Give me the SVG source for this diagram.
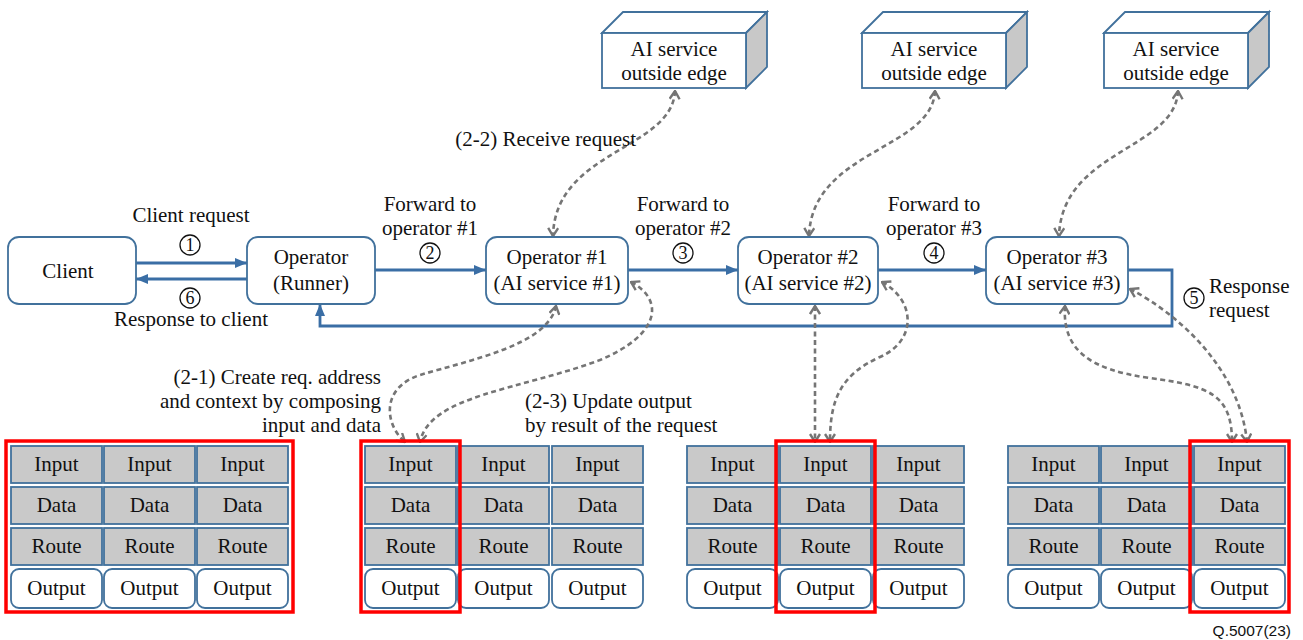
<svg xmlns="http://www.w3.org/2000/svg" width="1303" height="640" viewBox="0 0 1303 640" font-family="'Liberation Serif', 'Times New Roman', 'DejaVu Serif', serif">
<style>
text{font-family:'Liberation Serif','Times New Roman','DejaVu Serif',serif;font-size:21px;fill:#111}
.c{text-anchor:middle}
.r{text-anchor:end}
.node{fill:#fff;stroke:#41719c;stroke-width:1.8}
.cell{fill:#c9c9c9;stroke:#41719c;stroke-width:1.8}
.out{fill:#fff;stroke:#41719c;stroke-width:1.8}
.red{fill:none;stroke:#ff0000;stroke-width:3.5}
.side{fill:#c8c8c8;stroke:#41719c;stroke-width:1.8}
.blue{fill:none;stroke:#3a6ea5;stroke-width:2.8}
.dash{fill:none;stroke:#757575;stroke-width:2.6;stroke-dasharray:5 3.5}
.num{fill:none;stroke:#111;stroke-width:1.3}
.dg{font-size:18px}
.foot{font-family:'Liberation Sans',Arial,sans-serif;font-size:15.5px;text-anchor:end}
</style>
<defs>
<marker id="ab" viewBox="0 0 12 10" refX="12" refY="5" markerWidth="12" markerHeight="10" markerUnits="userSpaceOnUse" orient="auto-start-reverse">
<path d="M0,0 L12,5 L0,10 Z" fill="#3a6ea5"/>
</marker>
<marker id="ag" viewBox="0 0 10 12" refX="9" refY="6" markerWidth="10" markerHeight="12" markerUnits="userSpaceOnUse" orient="auto-start-reverse">
<path d="M1,1 L9,6 L1,11" fill="none" stroke="#757575" stroke-width="2.4"/>
</marker>
<g id="col">
<rect class="cell" x="0" y="0" width="91" height="37"/>
<rect class="cell" x="0" y="41" width="91" height="37"/>
<rect class="cell" x="0" y="82" width="91" height="37"/>
<rect class="out" x="0" y="123" width="91" height="39" rx="8"/>
<text class="c" x="45.5" y="25">Input</text>
<text class="c" x="45.5" y="66">Data</text>
<text class="c" x="45.5" y="107">Route</text>
<text class="c" x="45.5" y="149">Output</text>
</g>
</defs>
<rect width="1303" height="640" fill="#fff"/>

<g id="connectors">
<path class="blue" d="M136,263 L247,263" marker-end="url(#ab)"/>
<path class="blue" d="M247,279 L136,279" marker-end="url(#ab)"/>
<path class="blue" d="M375,270 L486,270" marker-end="url(#ab)"/>
<path class="blue" d="M628,270 L738,270" marker-end="url(#ab)"/>
<path class="blue" d="M878,270 L986,270" marker-end="url(#ab)"/>
<path class="blue" d="M1128,270 L1172,270 L1172,326 L320,326 L320,304" marker-end="url(#ab)"/>
<path class="dash" d="M675,91 C672,150 555,150 553,236" marker-start="url(#ag)" marker-end="url(#ag)"/>
<path class="dash" d="M935,91 C932,150 812,150 809,236" marker-start="url(#ag)" marker-end="url(#ag)"/>
<path class="dash" d="M1178,91 C1175,150 1062,150 1059,236" marker-start="url(#ag)" marker-end="url(#ag)"/>
<path class="dash" d="M556,306 C548,345 470,360 420,375 C380,388 385,425 405,442" marker-start="url(#ag)" marker-end="url(#ag)"/>
<path class="dash" d="M631,282 C665,300 660,335 600,360 C520,390 430,395 420,442" marker-start="url(#ag)" marker-end="url(#ag)"/>
<path class="dash" d="M815,306 L815,442" marker-start="url(#ag)" marker-end="url(#ag)"/>
<path class="dash" d="M882,282 C915,300 918,340 880,357 C840,375 830,400 830,442" marker-start="url(#ag)" marker-end="url(#ag)"/>
<path class="dash" d="M1065,306 C1062,350 1090,370 1150,378 C1210,386 1232,395 1232,442" marker-start="url(#ag)" marker-end="url(#ag)"/>
<path class="dash" d="M1130,289 C1180,315 1240,370 1247,442" marker-start="url(#ag)" marker-end="url(#ag)"/>
</g>

<g id="labels">
<text class="c" x="191" y="222">Client request</text>
<circle class="num" cx="190" cy="245" r="10"/><text class="c dg" x="190" y="251">1</text>
<circle class="num" cx="190" cy="298" r="10"/><text class="c dg" x="190" y="304">6</text>
<text class="c" x="191" y="326">Response to client</text>
<text class="c" x="430" y="211">Forward to</text>
<text class="c" x="430" y="235">operator #1</text>
<circle class="num" cx="430" cy="253" r="10"/><text class="c dg" x="430" y="259">2</text>
<text class="c" x="683" y="211">Forward to</text>
<text class="c" x="683" y="235">operator #2</text>
<circle class="num" cx="683" cy="253" r="10"/><text class="c dg" x="683" y="259">3</text>
<text class="c" x="934" y="211">Forward to</text>
<text class="c" x="934" y="235">operator #3</text>
<circle class="num" cx="934" cy="253" r="10"/><text class="c dg" x="934" y="259">4</text>
<circle class="num" cx="1194" cy="298" r="10"/><text class="c dg" x="1194" y="304">5</text>
<text x="1209" y="293">Response</text>
<text x="1209" y="317">request</text>
<text class="r" x="636" y="146">(2-2) Receive request</text>
<text class="r" x="381" y="384">(2-1) Create req. address</text>
<text class="r" x="381" y="408">and context by composing</text>
<text class="r" x="381" y="432">input and data</text>
<text x="525" y="408">(2-3) Update output</text>
<text x="525" y="432">by result of the request</text>
<text class="foot" x="1291" y="636">Q.5007(23)</text>
</g>

<g id="client"><rect class="node" x="8" y="237" width="128" height="67" rx="11"/><text class="c" x="68" y="278">Client</text></g>
<g id="runner"><rect class="node" x="247" y="237" width="128" height="67" rx="11"/><text class="c" x="311" y="264">Operator</text><text class="c" x="311" y="290">(Runner)</text></g>
<g id="op1"><rect class="node" x="486" y="237" width="142" height="67" rx="11"/><text class="c" x="557" y="264">Operator #1</text><text class="c" x="557" y="290">(AI service #1)</text></g>
<g id="op2"><rect class="node" x="738" y="237" width="140" height="67" rx="11"/><text class="c" x="808" y="264">Operator #2</text><text class="c" x="808" y="290">(AI service #2)</text></g>
<g id="op3"><rect class="node" x="986" y="237" width="142" height="67" rx="11"/><text class="c" x="1057" y="264">Operator #3</text><text class="c" x="1057" y="290">(AI service #3)</text></g>

<g id="ai1">
<polygon class="node" points="602,33 623,12 767,12 746,33"/>
<polygon class="side" points="746,33 767,12 767,67 746,88"/>
<rect class="node" x="602" y="33" width="144" height="55"/>
<text class="c" x="674" y="56">AI service</text><text class="c" x="674" y="80">outside edge</text>
</g>
<g id="ai2">
<polygon class="node" points="862,33 883,12 1027,12 1006,33"/>
<polygon class="side" points="1006,33 1027,12 1027,67 1006,88"/>
<rect class="node" x="862" y="33" width="144" height="55"/>
<text class="c" x="934" y="56">AI service</text><text class="c" x="934" y="80">outside edge</text>
</g>
<g id="ai3">
<polygon class="node" points="1104,33 1125,12 1269,12 1248,33"/>
<polygon class="side" points="1248,33 1269,12 1269,67 1248,88"/>
<rect class="node" x="1104" y="33" width="144" height="55"/>
<text class="c" x="1176" y="56">AI service</text><text class="c" x="1176" y="80">outside edge</text>
</g>

<g id="grid1">
<use href="#col" x="11" y="446"/><use href="#col" x="104" y="446"/><use href="#col" x="197" y="446"/>
<rect class="red" x="6" y="441" width="287" height="171"/>
</g>
<g id="grid2">
<use href="#col" x="365" y="446"/><use href="#col" x="458" y="446"/><use href="#col" x="552" y="446"/>
<rect class="red" x="361" y="441" width="99" height="171"/>
</g>
<g id="grid3">
<use href="#col" x="687" y="446"/><use href="#col" x="780" y="446"/><use href="#col" x="873" y="446"/>
<rect class="red" x="776" y="441" width="99" height="171"/>
</g>
<g id="grid4">
<use href="#col" x="1008" y="446"/><use href="#col" x="1101" y="446"/><use href="#col" x="1194" y="446"/>
<rect class="red" x="1190" y="441" width="99" height="171"/>
</g>
</svg>
